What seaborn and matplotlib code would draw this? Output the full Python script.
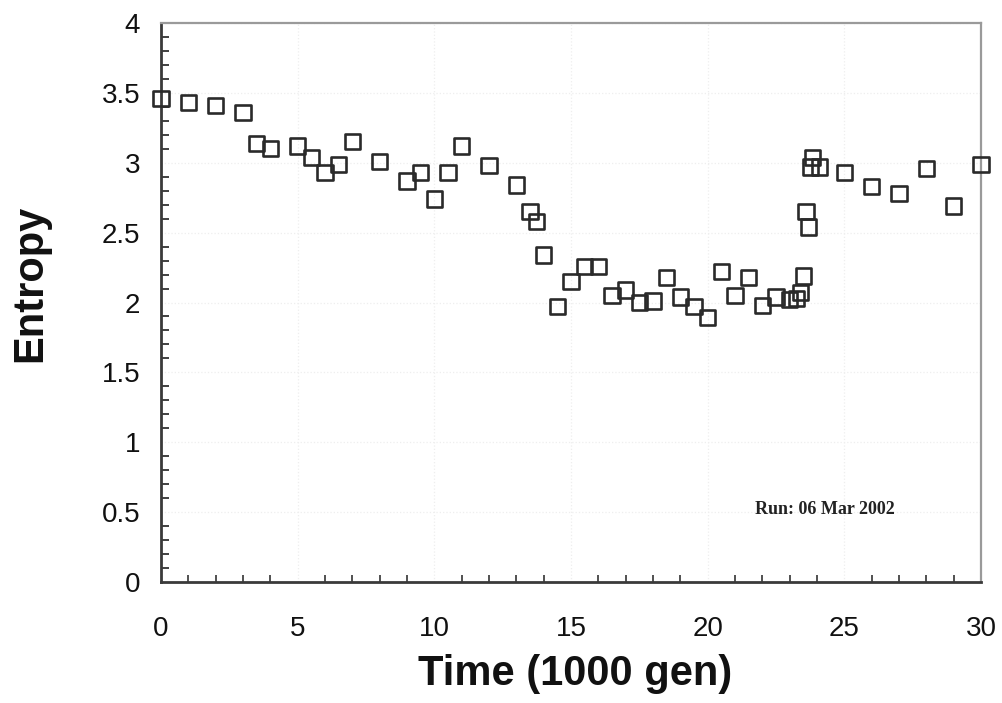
import matplotlib
matplotlib.use("Agg")
import matplotlib.pyplot as plt
from matplotlib.ticker import MultipleLocator
import seaborn as sns
import pandas as pd

# Data
time_kgen = [0, 1, 2, 3, 3.5, 4, 5, 5.5, 6, 6.5, 7, 8, 9, 9.5, 10, 10.5, 11, 12,
             13, 13.5, 13.75, 14, 14.5, 15, 15.5, 16, 16.5, 17, 17.5, 18, 18.5,
             19, 19.5, 20, 20.5, 21, 21.5, 22, 22.5, 23, 23.25, 23.4, 23.5, 23.6,
             23.7, 23.85, 23.75, 24.1, 25, 26, 27, 28, 29, 30]
entropy = [3.46, 3.43, 3.41, 3.36, 3.14, 3.10, 3.12, 3.04, 2.93, 2.99, 3.15, 3.01,
           2.87, 2.93, 2.74, 2.93, 3.12, 2.98, 2.84, 2.65, 2.58, 2.34, 1.97, 2.15,
           2.26, 2.26, 2.05, 2.09, 2.00, 2.01, 2.18, 2.04, 1.97, 1.89, 2.22, 2.05,
           2.18, 1.98, 2.04, 2.02, 2.03, 2.07, 2.19, 2.65, 2.54, 3.04, 2.97, 2.97,
           2.93, 2.83, 2.78, 2.96, 2.69, 2.99]
x_ticks = [0, 5, 10, 15, 20, 25, 30]
y_ticks = [0, 0.5, 1, 1.5, 2, 2.5, 3, 3.5, 4]
y_tick_labels = ["0", "0.5", "1", "1.5", "2", "2.5", "3", "3.5", "4"]
annotation = "Run: 06 Mar 2002"

df = pd.DataFrame({"Time": time_kgen, "Entropy": entropy})

sns.set_theme(style="white")
plt.rcParams["font.family"] = ["Liberation Sans", "DejaVu Sans"]

fig = plt.figure(figsize=(10.02, 7.03), dpi=100)
ax = fig.add_axes([0.1607, 0.1721, 0.979 - 0.1607, 0.9673 - 0.1721])

sns.scatterplot(data=df, x="Time", y="Entropy", ax=ax, marker="s", s=120,
                facecolor="none", edgecolor="#2a2a2a", linewidth=1.9, zorder=3,
                clip_on=False)

ax.set_xlim(0, 30)
ax.set_ylim(0, 4)
ax.set_xticks(x_ticks)
ax.set_xticklabels([str(t) for t in x_ticks])
ax.set_yticks(y_ticks)
ax.set_yticklabels(y_tick_labels)
ax.xaxis.set_minor_locator(MultipleLocator(1))
ax.yaxis.set_minor_locator(MultipleLocator(0.1))

ax.grid(True, which="major", color="#eeeeee", linestyle=":", linewidth=0.9, zorder=0)

ax.tick_params(axis="both", which="major", direction="inout", length=13, width=1.6,
               color="#333333", labelsize=20, labelcolor="#111111")
ax.tick_params(axis="x", which="major", pad=18)
ax.tick_params(axis="y", which="major", pad=8.5)
ax.tick_params(axis="y", which="minor", direction="in", length=6, width=1.3,
               color="#333333", left=True)
ax.tick_params(axis="x", which="minor", direction="in", length=5, width=1.2,
               color="#333333", bottom=True)

for side in ["left", "bottom"]:
    ax.spines[side].set_color("#3a3a3a")
    ax.spines[side].set_linewidth(2.0)
for side in ["top", "right"]:
    ax.spines[side].set_visible(True)
    ax.spines[side].set_color("#9a9a9a")
    ax.spines[side].set_linewidth(1.6)

ax.set_xlabel("Time (1000 gen)", fontsize=30, fontweight="bold", color="#111111")
ax.set_ylabel("Entropy", fontsize=30, fontweight="bold", color="#111111")
ax.xaxis.set_label_coords(0.505, -0.128)
ax.yaxis.set_label_coords(-0.135, 0.535)

ax.text(24.3, 0.52, annotation, fontsize=13, fontweight="bold",
        family=["Liberation Serif", "DejaVu Serif"], color="#222222",
        ha="center", va="center")

fig.savefig("out.png", dpi=100, facecolor="white")
